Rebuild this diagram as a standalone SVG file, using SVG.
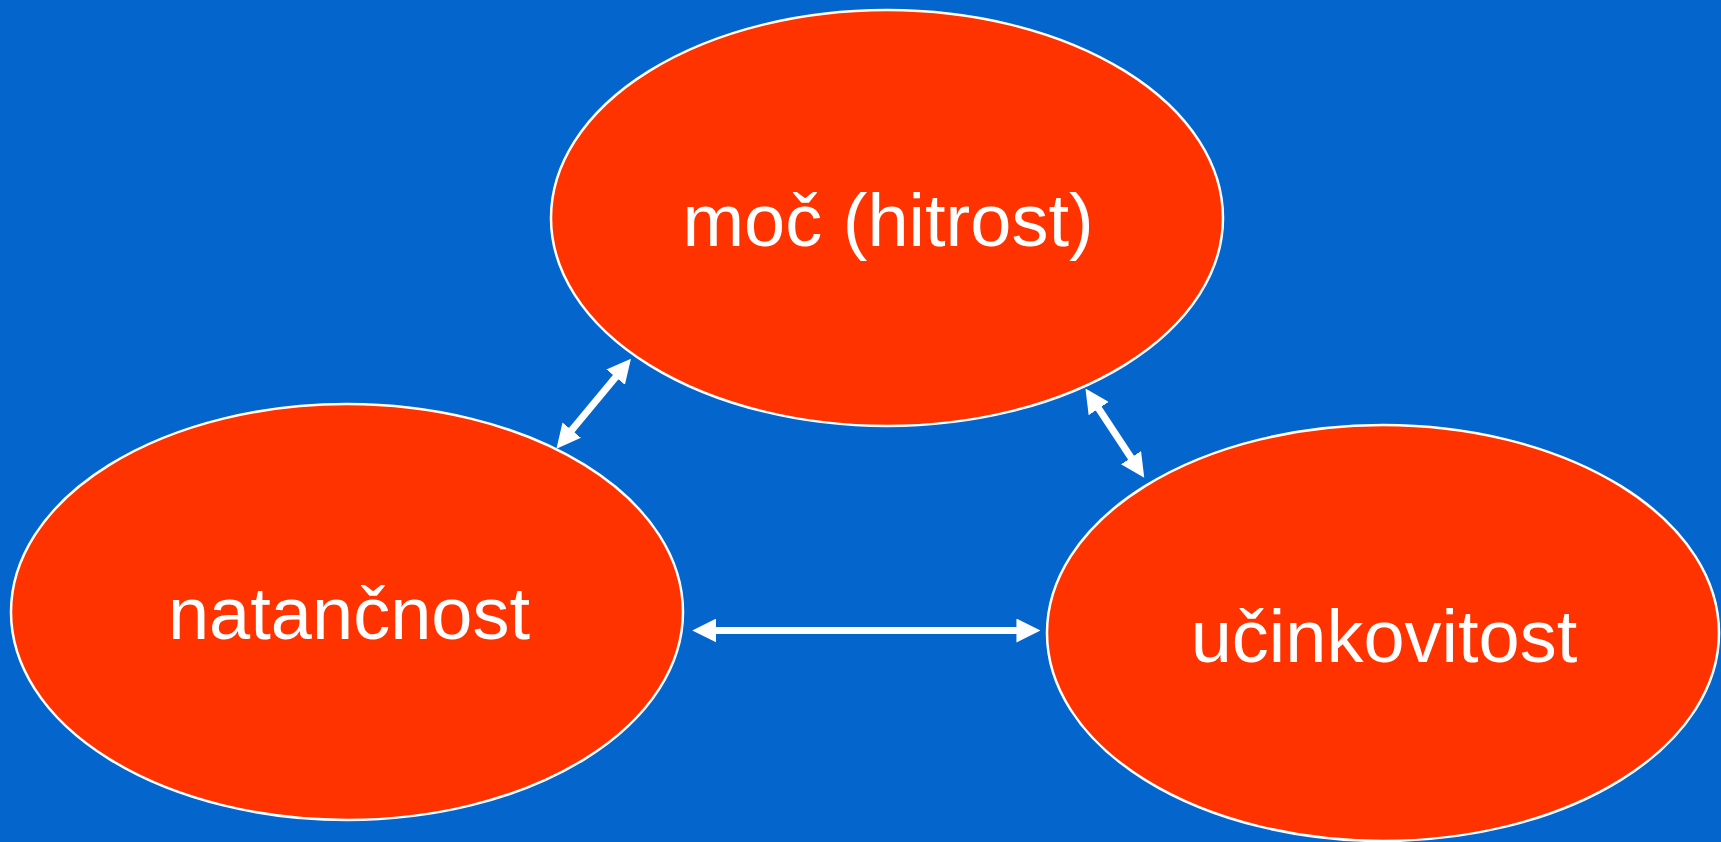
<svg xmlns="http://www.w3.org/2000/svg" width="1721" height="842" viewBox="0 0 1721 842">
<style>
.node{fill:#FF3300;stroke:#FFFFFF;stroke-width:2.5}
.lbl{fill:#FFFFFF;font-family:"Liberation Sans",Arial,sans-serif;font-size:74px;text-anchor:middle}
.conn{stroke:#FFFFFF;stroke-width:7;fill:none;marker-start:url(#ah);marker-end:url(#ah)}
</style>
<defs>
<marker id="ah" markerUnits="userSpaceOnUse" markerWidth="24" markerHeight="24" viewBox="0 0 23 23" refX="13" refY="11.5" orient="auto-start-reverse">
<path d="M0,0 L23,11.5 L0,23 z" fill="#FFFFFF"/>
</marker>
</defs>
<rect x="0" y="0" width="1721" height="842" fill="#0466CC"/>
<g id="node-moc">
<ellipse class="node" cx="887" cy="218" rx="336" ry="208"/>
<text class="lbl" x="888" y="246">moč (hitrost)</text>
</g>
<g id="node-natancnost">
<ellipse class="node" cx="347" cy="612" rx="336" ry="208"/>
<text class="lbl" x="349" y="639">natančnost</text>
</g>
<g id="node-ucinkovitost">
<ellipse class="node" cx="1383" cy="633" rx="336" ry="208"/>
<text class="lbl" x="1384" y="662">učinkovitost</text>
</g>
<g id="connectors">
<line class="conn" x1="563.1" y1="440.6" x2="624.3" y2="366.7"/>
<line class="conn" x1="1091.2" y1="397.3" x2="1138.5" y2="469"/>
<line class="conn" x1="702.7" y1="630.5" x2="1030" y2="630.5"/>
</g>
</svg>
